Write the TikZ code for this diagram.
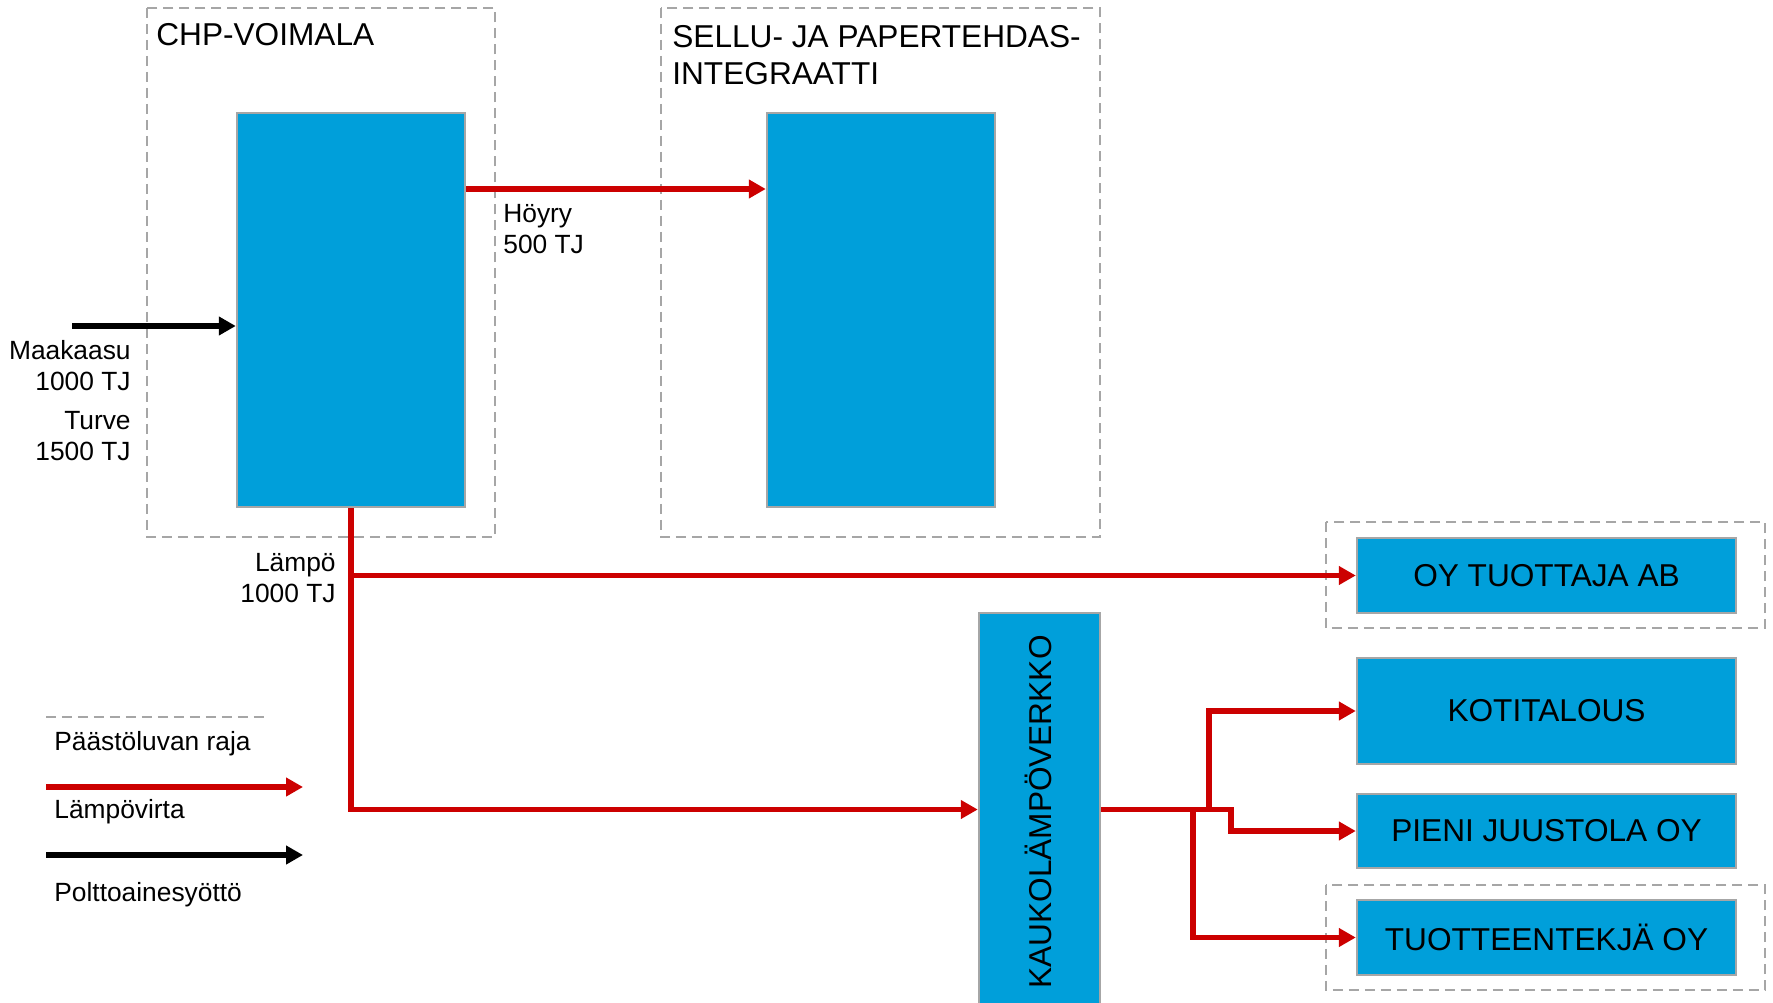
\documentclass[tikz,border=0pt]{standalone}
\usepackage{fontspec}
\setmainfont{Liberation Sans}
\usetikzlibrary{arrows.meta}
\definecolor{boxblue}{RGB}{0,159,218}
\definecolor{edgegray}{RGB}{166,166,166}
\definecolor{heatred}{RGB}{204,0,0}
\begin{document}
\begin{tikzpicture}[x=0.02cm,y=-0.02cm,
  bluebox/.style={draw=edgegray, line width=0.05cm, fill=boxblue, inner sep=0pt, font=\fontsize{18}{21}\selectfont},
  boundary/.style={draw=edgegray, line width=0.04cm, dash pattern=on 0.2cm off 0.12cm},
  heat/.style={draw=heatred, line width=0.11cm, -{Triangle[length=0.34cm,width=0.36cm]}},
  fuel/.style={draw=black, line width=0.11cm, -{Triangle[length=0.34cm,width=0.36cm]}},
  lbl/.style={font=\fontsize{15}{17.6}\selectfont, inner sep=0pt},
  title/.style={font=\fontsize{18}{21}\selectfont, inner sep=0pt}]

\useasboundingbox[fill=white] (0,0) rectangle (1773,1003);

% permit boundaries
\draw[boundary] (147,8) rectangle (495,537);
\draw[boundary] (661,8) rectangle (1100,537);
\draw[boundary] (1326,522) rectangle (1765,628);
\draw[boundary] (1326,885) rectangle (1765,990);

% titles
\node[title, anchor=west] (chptitle) at (156,35) {CHP-VOIMALA};
\node[title, anchor=west, align=left] (sellutitle) at (672,55) {SELLU- JA PAPERTEHDAS-\\INTEGRAATTI};

% blue boxes
\node[bluebox, minimum width=4.56cm, minimum height=7.88cm] (chp) at (351,310) {};
\node[bluebox, minimum width=4.56cm, minimum height=7.88cm] (sellu) at (881,310) {};
\node[bluebox, minimum width=2.42cm, minimum height=7.86cm] (kauko) at (1039.5,809.5) {};
\node[title, rotate=90] (kaukotext) at (1038,812) {KAUKOLÄMPÖVERKKO};
\node[bluebox, minimum width=7.58cm, minimum height=1.5cm] (oy) at (1546.5,575.5) {OY TUOTTAJA AB};
\node[bluebox, minimum width=7.58cm, minimum height=2.12cm] (koti) at (1546.5,711) {KOTITALOUS};
\node[bluebox, minimum width=7.58cm, minimum height=1.48cm] (pieni) at (1546.5,831) {PIENI JUUSTOLA OY};
\node[bluebox, minimum width=7.58cm, minimum height=1.5cm] (tuot) at (1546.5,937.5) {TUOTTEENTEKJÄ OY};

% fuel input
\coordinate (fuelstart) at (72,326);
\draw[fuel] (fuelstart) -- (chp.west |- fuelstart);
\node[lbl, anchor=east, align=right] (maa) at (131,366) {Maakaasu\\1000 TJ};
\node[lbl, anchor=east, align=right] (turve) at (131,436.5) {Turve\\1500 TJ};

% steam
\coordinate (steamy) at (0,189);
\draw[heat] (chp.east |- steamy) -- (sellu.west |- steamy);
\node[lbl, anchor=west, align=left] (hoyry) at (503,229.5) {Höyry\\500 TJ};

% heat from CHP
\draw[heat] (chp.south) |- (kauko.west);
\draw[heat] (chp.south |- oy.west) -- (oy.west);
\node[lbl, anchor=east, align=right] (lampo) at (336,578) {Lämpö\\1000 TJ};

% district heating distribution
\coordinate (xtuot) at (1193,0);
\coordinate (xkoti) at (1209,0);
\coordinate (xpieni) at (1231,0);
\draw[heat] (kauko.east) -- (kauko.east -| xpieni) |- (pieni.west);
\draw[heat] (kauko.east -| xkoti) |- (koti.west);
\draw[heat] (kauko.east -| xtuot) |- (tuot.west);

% legend
\coordinate (la) at (46,717);
\coordinate (lb) at (268,717);
\draw[boundary] (la) -- (lb);
\node[lbl, anchor=west] (leg1) at (54,744) {Päästöluvan raja};
\coordinate (lc) at (46,787);
\coordinate (ld) at (303,787);
\draw[heat] (lc) -- (ld);
\node[lbl, anchor=west] (leg2) at (54,812) {Lämpövirta};
\coordinate (le) at (46,855);
\coordinate (lf) at (303,855);
\draw[fuel] (le) -- (lf);
\node[lbl, anchor=west] (leg3) at (54,895) {Polttoainesyöttö};
\end{tikzpicture}
\end{document}
